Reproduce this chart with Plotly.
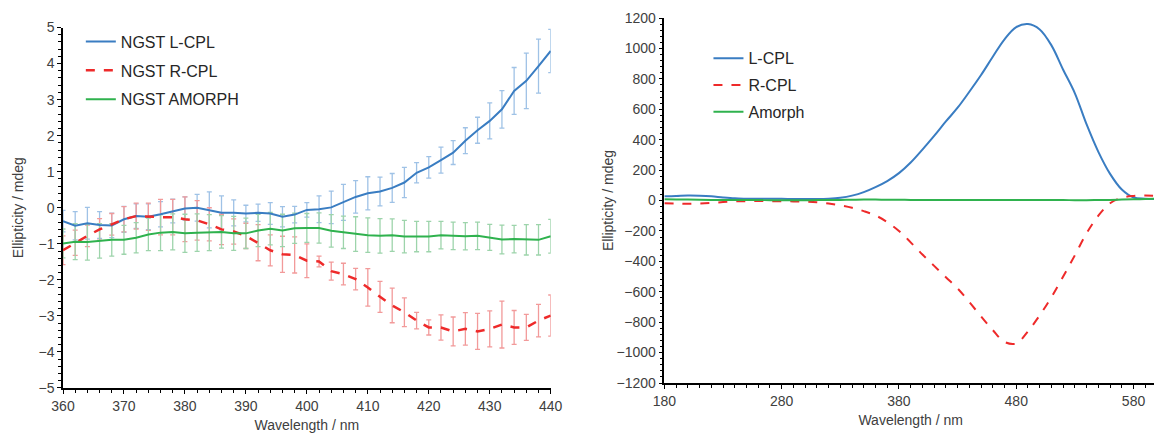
import plotly.graph_objects as go

# ---- left panel: NGST, 360-440 nm with error bars
wl_left = list(range(360, 441, 2))

ngst_l = [-0.37, -0.50, -0.43, -0.48, -0.49, -0.32, -0.23, -0.25, -0.18, -0.09,
          -0.02, 0.00, -0.06, -0.14, -0.14, -0.16, -0.14, -0.16, -0.25, -0.19,
          -0.06, -0.04, 0.01, 0.15, 0.30, 0.40, 0.45, 0.55, 0.70, 0.97,
          1.12, 1.32, 1.53, 1.86, 2.15, 2.41, 2.73, 3.24, 3.52, 3.93, 4.35]
ngst_l_err = [0.30, 0.39, 0.44, 0.37, 0.34, 0.36, 0.34, 0.36, 0.35, 0.33,
              0.32, 0.37, 0.50, 0.47, 0.36, 0.23, 0.24, 0.30, 0.28, 0.23,
              0.20, 0.37, 0.45, 0.50, 0.45, 0.46, 0.40, 0.40, 0.42, 0.28,
              0.30, 0.36, 0.33, 0.36, 0.36, 0.50, 0.52, 0.65, 0.77, 0.75, 0.60]

ngst_r = [-1.18, -0.97, -0.78, -0.60, -0.46, -0.32, -0.23, -0.25, -0.26, -0.26,
          -0.32, -0.35, -0.46, -0.60, -0.66, -0.78, -0.97, -1.18, -1.29, -1.31,
          -1.47, -1.49, -1.76, -1.84, -1.98, -2.21, -2.47, -2.71, -2.90, -3.13,
          -3.32, -3.32, -3.43, -3.36, -3.43, -3.36, -3.24, -3.32, -3.32, -3.13, -2.99]
ngst_r_err = [0.40, 0.35, 0.30, 0.30, 0.30, 0.35, 0.36, 0.38, 0.49, 0.49,
              0.62, 0.55, 0.46, 0.42, 0.35, 0.35, 0.50, 0.43, 0.50, 0.50,
              0.47, 0.15, 0.25, 0.30, 0.30, 0.52, 0.43, 0.48, 0.40, 0.23,
              0.21, 0.35, 0.40, 0.45, 0.50, 0.50, 0.65, 0.47, 0.36, 0.45, 0.57]

ngst_a = [-0.99, -0.94, -0.95, -0.92, -0.89, -0.89, -0.83, -0.74, -0.69, -0.67,
          -0.71, -0.69, -0.69, -0.67, -0.71, -0.71, -0.63, -0.58, -0.63, -0.57,
          -0.56, -0.56, -0.64, -0.68, -0.73, -0.76, -0.78, -0.76, -0.80, -0.80,
          -0.80, -0.76, -0.78, -0.79, -0.78, -0.82, -0.88, -0.87, -0.89, -0.89, -0.79]
ngst_a_err = [0.40, 0.50, 0.50, 0.48, 0.45, 0.40, 0.42, 0.45, 0.50, 0.50,
              0.53, 0.52, 0.50, 0.45, 0.47, 0.42, 0.45, 0.45, 0.45, 0.42,
              0.40, 0.42, 0.45, 0.45, 0.48, 0.48, 0.48, 0.45, 0.45, 0.42,
              0.42, 0.38, 0.38, 0.38, 0.38, 0.36, 0.40, 0.38, 0.42, 0.42, 0.47]

# ---- right panel: 180-600 nm
wl_right = list(range(180, 601, 10))

lcpl = [28, 30, 33, 32, 28, 20, 14, 12, 11, 11, 11, 10, 10, 10, 12, 18, 32, 55,
        88, 128, 180, 250, 335, 425, 520, 610, 715, 825, 945, 1060, 1140, 1160,
        1125, 1020, 860, 705, 500, 320, 175, 72, 20, 12, 10]
rcpl = [-18, -20, -22, -20, -16, -10, -6, -4, -3, -4, -5, -6, -8, -12, -20, -32,
        -48, -70, -98, -142, -200, -275, -355, -430, -505, -578, -668, -762,
        -852, -930, -940, -860, -755, -635, -500, -360, -215, -100, -18, 18,
        30, 33, 30]
amorph = [8, 7, 6, 5, 4, 3, 3, 3, 3, 2, 2, 2, 2, 3, 3, 4, 5, 6, 6, 5, 5, 4, 4,
          4, 4, 3, 3, 4, 4, 4, 4, 3, 3, 3, 3, 2, 2, 3, 4, 6, 8, 10, 12]

BLUE = "#3a7dc2"
RED = "#ee2a2a"
GREEN = "#2fb24e"
FONT = "Liberation Sans, Arial, sans-serif"

fig = go.Figure()

# error bars first so every line sits on top of them
for ys, err, col in [(ngst_l, ngst_l_err, "#9fc2e6"),
                     (ngst_r, ngst_r_err, "#f29a9a"),
                     (ngst_a, ngst_a_err, "#9dd4ab")]:
    fig.add_trace(go.Scatter(
        x=wl_left, y=ys, mode="markers", showlegend=False, hoverinfo="skip",
        marker=dict(size=1, color="rgba(0,0,0,0)"),
        error_y=dict(type="data", array=err, color=col, thickness=1.3, width=2.5),
        xaxis="x", yaxis="y"))

fig.add_trace(go.Scatter(x=wl_left, y=ngst_l, mode="lines", name="NGST L-CPL",
                         line=dict(color=BLUE, width=2), legend="legend", legendgroup="a",
                         xaxis="x", yaxis="y"))
fig.add_trace(go.Scatter(x=wl_left, y=ngst_r, mode="lines", name="NGST R-CPL",
                         line=dict(color=RED, width=2.5, dash="dash"), legend="legend",
                         legendgroup="b", xaxis="x", yaxis="y"))
fig.add_trace(go.Scatter(x=wl_left, y=ngst_a, mode="lines", name="NGST AMORPH",
                         line=dict(color=GREEN, width=2), legend="legend", legendgroup="c",
                         xaxis="x", yaxis="y"))

fig.add_trace(go.Scatter(x=wl_right, y=lcpl, mode="lines", name="L-CPL",
                         line=dict(color=BLUE, width=2, shape="spline"), legend="legend2",
                         legendgroup="d", xaxis="x2", yaxis="y2"))
fig.add_trace(go.Scatter(x=wl_right, y=rcpl, mode="lines", name="R-CPL",
                         line=dict(color=RED, width=2, dash="dash", shape="spline"),
                         legend="legend2", legendgroup="e", xaxis="x2", yaxis="y2"))
fig.add_trace(go.Scatter(x=wl_right, y=amorph, mode="lines", name="Amorph",
                         line=dict(color=GREEN, width=2, shape="spline"), legend="legend2",
                         legendgroup="f", xaxis="x2", yaxis="y2"))

axis_style = dict(showline=True, linecolor="black", linewidth=1.5, showgrid=False,
                  zeroline=False, ticks="outside", ticklen=4, tickcolor="black",
                  tickfont=dict(size=14, color="#404040", family=FONT),
                  title_font=dict(size=14, color="#404040", family=FONT))
minor_style = dict(ticks="outside", ticklen=3, tickcolor="black", tickwidth=1.2)

# the page adds an 8px offset at the top, so the figure is 8px shorter than the window
fig.update_layout(
    width=1162, height=427,
    margin=dict(l=55, r=1, t=10, b=47),
    paper_bgcolor="white", plot_bgcolor="white",
    font=dict(family=FONT, color="#404040"),
    xaxis=dict(axis_style, domain=[0, 0.4458], range=[360, 440], dtick=10,
               minor=dict(minor_style, dtick=2),
               title=dict(text="Wavelength / nm", standoff=8), anchor="y"),
    yaxis=dict(axis_style, domain=[0, 0.9743], range=[-5, 5], dtick=1,
               minor=dict(minor_style, dtick=0.2),
               title=dict(text="Ellipticity / mdeg", standoff=12), anchor="x"),
    xaxis2=dict(axis_style, domain=[0.5497, 1], range=[180, 600], tick0=180, dtick=100,
                minor=dict(minor_style, tick0=180, dtick=10),
                title=dict(text="Wavelength / nm", standoff=8), anchor="y2"),
    yaxis2=dict(axis_style, domain=[0.0135, 1], range=[-1200, 1200], dtick=200,
                minor=dict(minor_style, dtick=40),
                title=dict(text="Ellipticity / mdeg", standoff=0), anchor="x2"),
    legend=dict(x=0.0163, y=0.982, xanchor="left", yanchor="top", bgcolor="rgba(0,0,0,0)",
                font=dict(size=16, color="#262626", family=FONT), tracegroupgap=5),
    legend2=dict(x=0.590, y=0.937, xanchor="left", yanchor="top", bgcolor="rgba(0,0,0,0)",
                 font=dict(size=16, color="#262626", family=FONT), tracegroupgap=3),
)

fig.write_html("out.html")
